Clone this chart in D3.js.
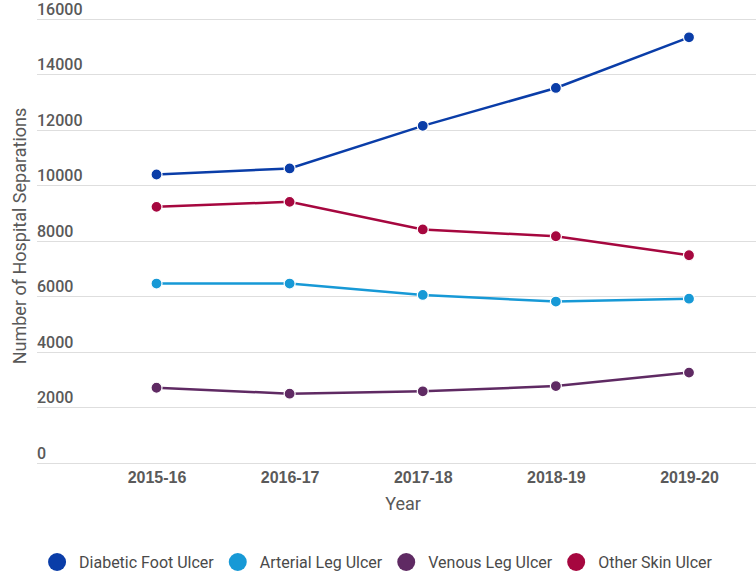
<!DOCTYPE html>
<html lang="en">
<head>
  <meta charset="UTF-8">
  <title>Hospital Separations by Ulcer Type</title>
  <script src="https://d3js.org/d3.v7.min.js"></script>
  <style>
    body { margin: 0; background: #fff; font-family: Roboto, "Noto Sans", sans-serif; }
    .grid line { stroke: #dedede; stroke-width: 1; }
    .tick-label { font-size: 16px; font-weight: 500; fill: #595959; }
    .x-label { font-size: 16px; font-weight: 700; fill: #5a5a5a; }
    .axis-title { font-size: 18px; fill: #595959; }
    .legend-text { font-size: 16px; fill: #4a4a4a; }
  </style>
</head>
<body>
  <div id="chart"></div>

  <script>
    // data
    const years = ["2015-16", "2016-17", "2017-18", "2018-19", "2019-20"];
    const seriesNames = ["Diabetic Foot Ulcer", "Arterial Leg Ulcer", "Venous Leg Ulcer", "Other Skin Ulcer"];
    const seriesColors = ["#0a3da8", "#1799d6", "#5f2a63", "#a6073f"];
    const diabeticFoot = [10380, 10600, 12135, 13500, 15325];
    const arterialLeg = [6450, 6450, 6040, 5800, 5905];
    const venousLeg = [2695, 2480, 2565, 2755, 3240];
    const otherSkin = [9215, 9395, 8400, 8155, 7470];
    const yTicks = [0, 2000, 4000, 6000, 8000, 10000, 12000, 14000, 16000];

    const series = [diabeticFoot, arterialLeg, venousLeg, otherSkin].map((vals, i) => ({
      name: seriesNames[i],
      color: seriesColors[i],
      values: vals
    }));

    const width = 756, height = 574;
    const gridLeft = 37, gridRight = 756;

    const svg = d3.select("#chart")
      .append("svg")
      .attr("width", width)
      .attr("height", height);

    const x = d3.scalePoint()
      .domain(years)
      .range([156.5, 689]);

    const y = d3.scaleLinear()
      .domain([0, 16000])
      .range([462.5, 18.6]);

    // gridlines + tick labels sitting above each line
    const grid = svg.append("g").attr("class", "grid");
    grid.selectAll("line")
      .data(yTicks)
      .enter()
      .append("line")
      .attr("x1", gridLeft)
      .attr("x2", gridRight)
      .attr("y1", d => Math.round(y(d)) + 0.5)
      .attr("y2", d => Math.round(y(d)) + 0.5);

    svg.append("g")
      .selectAll("text")
      .data(yTicks)
      .enter()
      .append("text")
      .attr("class", "tick-label")
      .attr("x", gridLeft)
      .attr("y", d => y(d) - 4)
      .text(d => d);

    // x axis labels (no axis line besides the 0 gridline)
    const xAxis = svg.append("g")
      .attr("transform", `translate(0, ${y(0)})`)
      .call(d3.axisBottom(x).tickSize(0).tickPadding(0));
    xAxis.select(".domain").remove();
    xAxis.selectAll("text")
      .attr("class", "x-label")
      .attr("font-family", null)
      .attr("font-size", null)
      .attr("fill", null)
      .attr("y", 20.5)
      .attr("dy", 0);

    svg.append("text")
      .attr("class", "axis-title")
      .attr("x", 403)
      .attr("y", 510)
      .attr("text-anchor", "middle")
      .text("Year");

    svg.append("text")
      .attr("class", "axis-title")
      .attr("transform", "translate(26, 236) rotate(-90)")
      .attr("text-anchor", "middle")
      .text("Number of Hospital Separations");

    // lines
    const line = d3.line()
      .x((d, i) => x(years[i]))
      .y(d => y(d));

    const seriesG = svg.append("g")
      .selectAll("g")
      .data(series)
      .enter()
      .append("g");

    seriesG.append("path")
      .attr("d", d => line(d.values))
      .attr("fill", "none")
      .attr("stroke", d => d.color)
      .attr("stroke-width", 2.5);

    seriesG.selectAll("circle")
      .data(d => d.values.map((v, i) => ({ v, i, color: d.color })))
      .enter()
      .append("circle")
      .attr("cx", d => x(years[d.i]))
      .attr("cy", d => y(d.v))
      .attr("r", 5.5)
      .attr("fill", d => d.color)
      .attr("stroke", "#fff")
      .attr("stroke-width", 1.2);

    // legend, centred under the chart
    const gap = 24;
    const legend = svg.append("g").attr("transform", "translate(0, 562)");
    const items = legend.selectAll("g")
      .data(series)
      .enter()
      .append("g");
    items.append("circle")
      .attr("r", 9)
      .attr("fill", d => d.color);
    items.append("text")
      .attr("class", "legend-text")
      .attr("x", 22)
      .attr("dy", "0.35em")
      .text(d => d.name);

    let cursor = 0;
    const offsets = [];
    items.each(function() {
      const w = this.querySelector("text").getComputedTextLength();
      offsets.push(cursor);
      cursor += 22 + w + gap;
    });
    const total = cursor - gap + 9;
    const start = 380 - total / 2 + 9;
    items.attr("transform", (d, i) => `translate(${start + offsets[i]}, 0)`);
  </script>
</body>
</html>
